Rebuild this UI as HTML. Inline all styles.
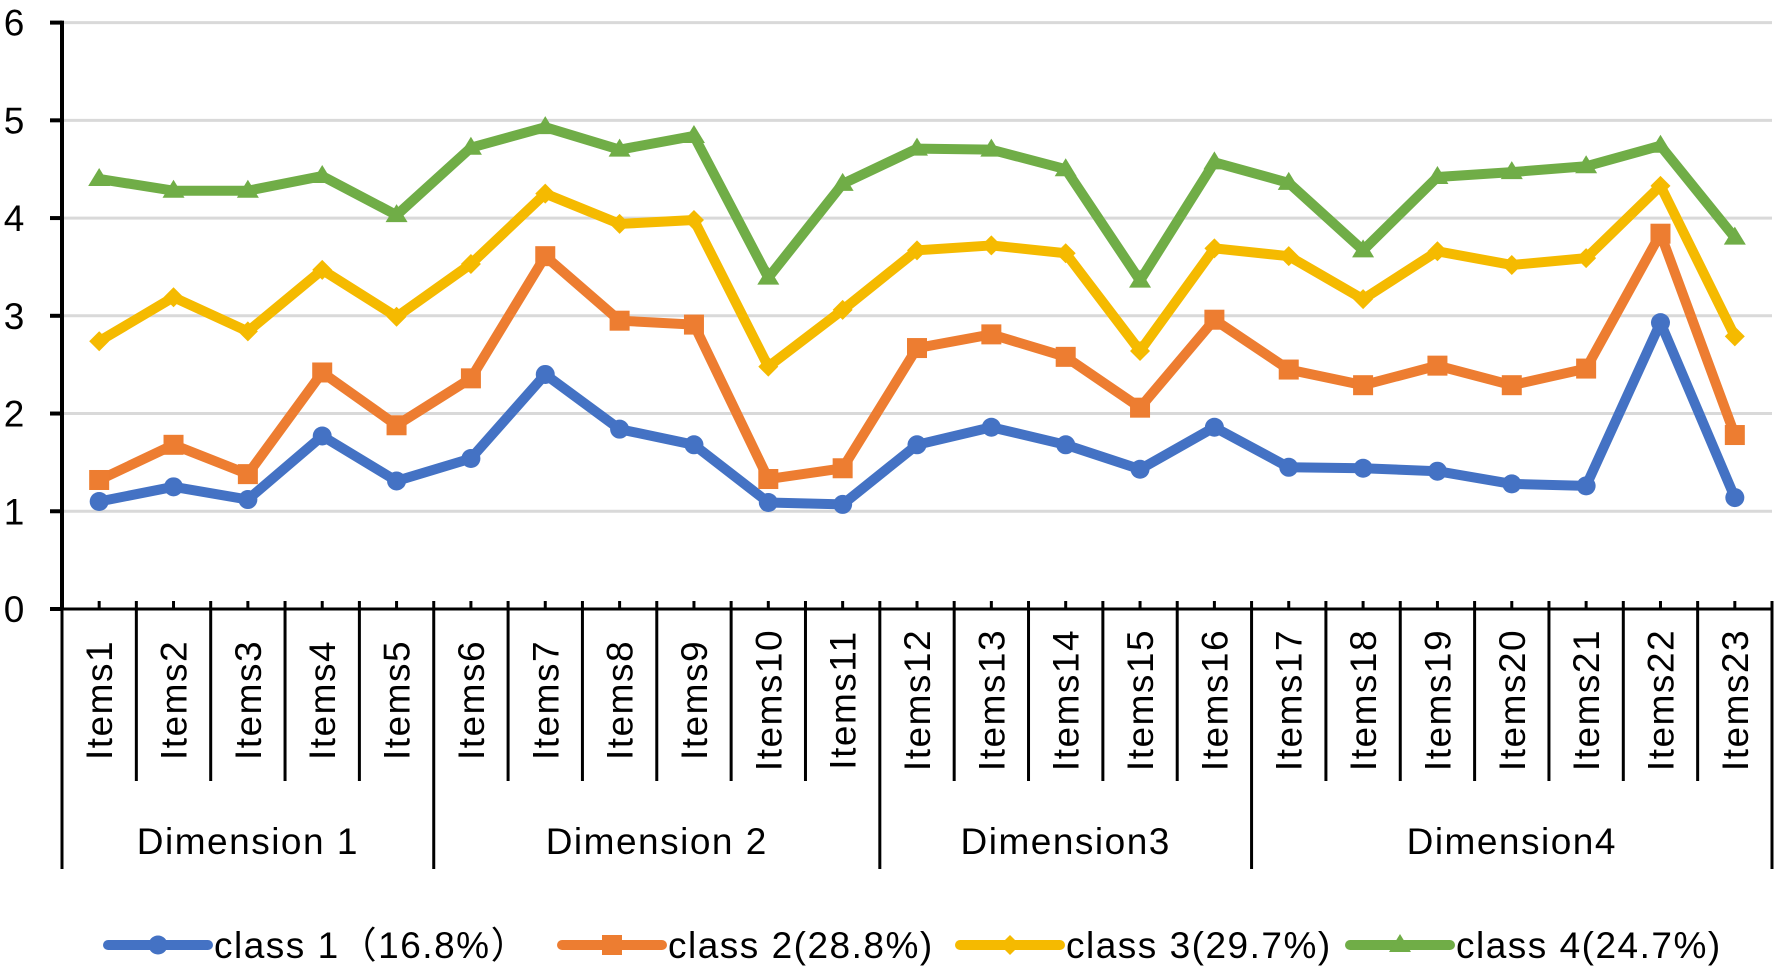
<!DOCTYPE html>
<html><head><meta charset="utf-8"><style>
html,body{margin:0;padding:0;background:#fff;}
svg{display:block;font-family:"Liberation Sans","Noto Sans CJK SC",sans-serif;}
</style></head><body>
<svg id="chart" width="1775" height="975" viewBox="0 0 1775 975" xmlns="http://www.w3.org/2000/svg">
<g id="grid"></g>
<g id="yaxis"></g>
<g id="xaxis"></g>
<g id="series"></g>
<g id="legend"></g>
</svg>
<script>
const categories = ["Items1","Items2","Items3","Items4","Items5","Items6","Items7","Items8","Items9","Items10","Items11","Items12","Items13","Items14","Items15","Items16","Items17","Items18","Items19","Items20","Items21","Items22","Items23"];
const dimensions = ["Dimension 1","Dimension 2","Dimension3","Dimension4"];
const dimensionSizes = [5,6,5,7];
const yTicks = [0,1,2,3,4,5,6];
const seriesNames = ["class 1\uFF0816.8%\uFF09","class 2(28.8%)","class 3(29.7%)","class 4(24.7%)"];
const class1 = [1.1,1.25,1.12,1.77,1.31,1.54,2.4,1.84,1.68,1.09,1.07,1.68,1.86,1.68,1.43,1.86,1.45,1.44,1.41,1.28,1.26,2.93,1.14];
const class2 = [1.32,1.68,1.38,2.42,1.88,2.36,3.61,2.95,2.91,1.33,1.44,2.67,2.81,2.58,2.06,2.96,2.45,2.29,2.49,2.29,2.46,3.84,1.78];
const class3 = [2.74,3.19,2.84,3.47,2.99,3.53,4.25,3.94,3.98,2.48,3.06,3.67,3.72,3.64,2.64,3.69,3.61,3.17,3.66,3.52,3.59,4.33,2.79];
const class4 = [4.4,4.28,4.28,4.43,4.03,4.72,4.93,4.7,4.84,3.39,4.35,4.71,4.7,4.5,3.36,4.57,4.36,3.67,4.42,4.47,4.53,4.74,3.8];

const NS="http://www.w3.org/2000/svg";
const X0=62, X1=1772, Y0=609, Y1=22.6, YMAX=6;
const cw=(X1-X0)/categories.length;
function xs(i){return X0+cw*(i+0.5);}
function ys(v){return Y0-(Y0-Y1)*v/YMAX;}
function mk(tag,attrs,parent){const e=document.createElementNS(NS,tag);for(const k in attrs)e.setAttribute(k,attrs[k]);parent.appendChild(e);return e;}
const grid=document.getElementById('grid'),yax=document.getElementById('yaxis'),xax=document.getElementById('xaxis'),ser=document.getElementById('series'),leg=document.getElementById('legend');

yTicks.forEach(t=>{
  const y=ys(t);
  if(t>0){const g=mk('line',{x1:X0,x2:X1,y1:y,y2:y,stroke:'#d9d9d9','stroke-width':3},grid);
  
  }
  const tk=mk('line',{x1:X0-12,x2:X0,y1:y,y2:y,stroke:'#000','stroke-width':4},yax);
  
  
  const tx=mk('text',{x:14,y:y+13,'font-size':37,'text-anchor':'middle',fill:'#000'},yax);
  tx.textContent=t;
  
  
});
mk('line',{x1:X0,x2:X0,y1:Y1-2,y2:Y0,stroke:'#000','stroke-width':4},yax);
mk('line',{x1:X0,x2:X1,y1:Y0,y2:Y0,stroke:'#000','stroke-width':3},xax);

for(let i=0;i<=categories.length;i++){
  const x=X0+cw*i;
  mk('line',{x1:x,x2:x,y1:Y0-8,y2:781,stroke:'#000','stroke-width':3},xax);
}
categories.forEach((c,i)=>{
  const x=xs(i);
  mk('line',{x1:x,x2:x,y1:Y0-8,y2:Y0,stroke:'#000','stroke-width':3},xax);
  const t=mk('text',{x:0,y:0,'font-size':37,'letter-spacing':1.5,'text-anchor':'middle',transform:`translate(${x+13},700) rotate(-90)`,fill:'#000'},xax);
  t.textContent=c;
  
  
});
let acc=0;
const bounds=[0];
dimensionSizes.forEach(s=>{acc+=s;bounds.push(acc);});
bounds.forEach(b=>{
  const x=X0+cw*b;
  mk('line',{x1:x,x2:x,y1:781,y2:869,stroke:'#000','stroke-width':3},xax);
});
dimensions.forEach((d,k)=>{
  const cx=X0+cw*(bounds[k]+bounds[k+1])/2;
  const t=mk('text',{x:cx,y:854,'font-size':37,'letter-spacing':1.5,'text-anchor':'middle',fill:'#000'},xax);
  t.textContent=d;
  
  
});

const allSeries=[class1,class2,class3,class4];
const colors=['#4472C4','#ED7D31','#F5BA00','#70AD47'];
function marker(k,x,y,parent){
  let m;
  if(k===0)m=mk('circle',{cx:x,cy:y,r:9.5,fill:colors[k]},parent);
  else if(k===1)m=mk('rect',{x:x-10,y:y-10,width:20,height:20,fill:colors[k]},parent);
  else if(k===2)m=mk('polygon',{points:`${x},${y-10} ${x+10},${y} ${x},${y+10} ${x-10},${y}`,fill:colors[k]},parent);
  else m=mk('polygon',{points:`${x},${y-11} ${x+11},${y+7} ${x-11},${y+7}`,fill:colors[k]},parent);
  return m;
}
allSeries.forEach((vals,k)=>{
  const g=mk('g',{},ser);
  
  
  const pts=vals.map((v,i)=>xs(i)+','+ys(v)).join(' ');
  const pl=mk('polyline',{points:pts,fill:'none',stroke:colors[k],'stroke-width':10,'stroke-linejoin':'round','stroke-linecap':'round'},g);
  
  
  vals.forEach((v,i)=>{
    const m=marker(k,xs(i),ys(v),g);
    
    
  });
});

const legX=[108,562,960,1350];
seriesNames.forEach((n,k)=>{
  const g=mk('g',{},leg);
  
  
  mk('line',{x1:legX[k],x2:legX[k]+100,y1:945,y2:945,stroke:colors[k],'stroke-width':10,'stroke-linecap':'round'},g);
  marker(k,legX[k]+50,945,g);
  const t=mk('text',{x:legX[k]+106,y:958,'font-size':37,'letter-spacing':1.5,fill:'#000'},g);
  t.textContent=n;
});
</script>
</body></html>
